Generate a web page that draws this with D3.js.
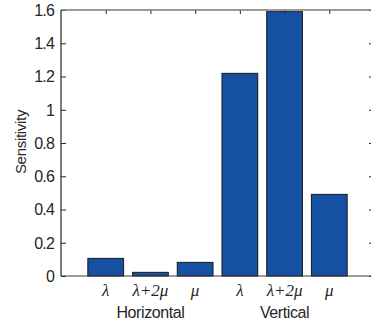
<!DOCTYPE html>
<html>
<head>
<meta charset="utf-8">
<script src="https://cdn.jsdelivr.net/npm/d3@7"></script>
<style>
  body { margin: 0; background: #fff; }
  svg text { font-family: "Liberation Sans", Arial, sans-serif; fill: #262626; }
</style>
</head>
<body>
<div id="chart"></div>
<script>
// Data
var barLabels = ["λ", "λ+2μ", "μ", "λ", "λ+2μ", "μ"];
var groupNames = ["Horizontal", "Vertical"];
var sensitivity = [0.106, 0.022, 0.082, 1.219, 1.59, 0.491];
var yTicks = [0, 0.2, 0.4, 0.6, 0.8, 1, 1.2, 1.4, 1.6];
var yTickLabels = ["0", "0.2", "0.4", "0.6", "0.8", "1", "1.2", "1.4", "1.6"];

var svgWidth = 371;
var svgHeight = 327;

var margin = { top: 10, right: -3, bottom: 51, left: 61 };
var width = svgWidth - margin.left - margin.right;
var height = svgHeight - margin.top - margin.bottom;

var svg = d3.select("#chart")
  .append("svg")
  .attr("width", svgWidth)
  .attr("height", svgHeight);

var chartGroup = svg.append("g")
  .attr("transform", `translate(${margin.left}, ${margin.top})`);

// Scales
var xScale = d3.scaleLinear().domain([0, 7]).range([0, width]);
var yScale = d3.scaleLinear().domain([0, 1.6]).range([height, 0]);
var barWidth = (xScale(1) - xScale(0)) * 0.8;

// Left axis with inward ticks
var leftAxis = d3.axisRight(yScale)
  .tickValues(yTicks)
  .tickSize(5)
  .tickFormat("");
var yAxis = chartGroup.append("g").call(leftAxis);
yAxis.select(".domain").remove();
yAxis.selectAll("line").attr("stroke", "#262626");

// Right axis ticks, inward
var rightAxis = d3.axisLeft(yScale).tickValues(yTicks).tickSize(5).tickFormat("");
var yAxisRight = chartGroup.append("g")
  .attr("transform", `translate(${width}, 0)`)
  .call(rightAxis);
yAxisRight.select(".domain").remove();
yAxisRight.selectAll("line").attr("stroke", "#262626");

// Y tick labels
chartGroup.selectAll(".ylab")
  .data(yTicks)
  .enter()
  .append("text")
  .attr("class", "ylab")
  .attr("x", -7)
  .attr("y", d => yScale(d))
  .attr("dy", "0.36em")
  .attr("text-anchor", "end")
  .attr("font-size", "16px")
  .attr("letter-spacing", "-0.8px")
  .text((d, i) => yTickLabels[i]);

// Top ticks, pointing down
var topAxis = d3.axisBottom(xScale).tickValues(d3.range(1, 7)).tickSize(4).tickFormat("");
var xAxisTop = chartGroup.append("g").call(topAxis);
xAxisTop.select(".domain").remove();
xAxisTop.selectAll("line").attr("stroke", "#262626");

// Bars
chartGroup.selectAll("rect.bar")
  .data(sensitivity)
  .enter()
  .append("rect")
  .attr("class", "bar")
  .attr("x", (d, i) => xScale(i + 1) - barWidth / 2)
  .attr("y", d => yScale(d))
  .attr("width", barWidth)
  .attr("height", d => yScale(0) - yScale(d))
  .attr("fill", "#1550a2")
  .attr("stroke", "#1a1a1a")
  .attr("stroke-width", 1);

// Box lines
chartGroup.append("line")
  .attr("x1", 0).attr("x2", width).attr("y1", 0).attr("y2", 0)
  .attr("stroke", "#7a7a7a").attr("stroke-width", 1.5);
chartGroup.append("line")
  .attr("x1", 0).attr("x2", width).attr("y1", height).attr("y2", height)
  .attr("stroke", "#3a3a3a").attr("stroke-width", 1.2);
chartGroup.append("line")
  .attr("x1", 0).attr("x2", 0).attr("y1", 0).attr("y2", height)
  .attr("stroke", "#262626").attr("stroke-width", 1.2);

// X category labels (Greek, italic serif)
chartGroup.selectAll(".xlab")
  .data(barLabels)
  .enter()
  .append("text")
  .attr("class", "xlab")
  .attr("x", (d, i) => xScale(i + 1))
  .attr("y", height + 20)
  .attr("text-anchor", "middle")
  .attr("font-size", "17px")
  .style("font-family", "'Liberation Serif', 'DejaVu Serif', serif")
  .style("font-style", "italic")
  .text(d => d);

// Group labels
chartGroup.selectAll(".glab")
  .data(groupNames)
  .enter()
  .append("text")
  .attr("class", "glab")
  .attr("x", (d, i) => xScale(i * 3 + 2))
  .attr("y", height + 42)
  .attr("text-anchor", "middle")
  .attr("font-size", "16px")
  .attr("letter-spacing", "-0.4px")
  .text(d => d);

// Y axis title
svg.append("text")
  .attr("transform", `translate(26, 142) rotate(-90)`)
  .attr("text-anchor", "middle")
  .attr("font-size", "15px")
  .attr("letter-spacing", "-0.3px")
  .text("Sensitivity");
</script>
</body>
</html>
